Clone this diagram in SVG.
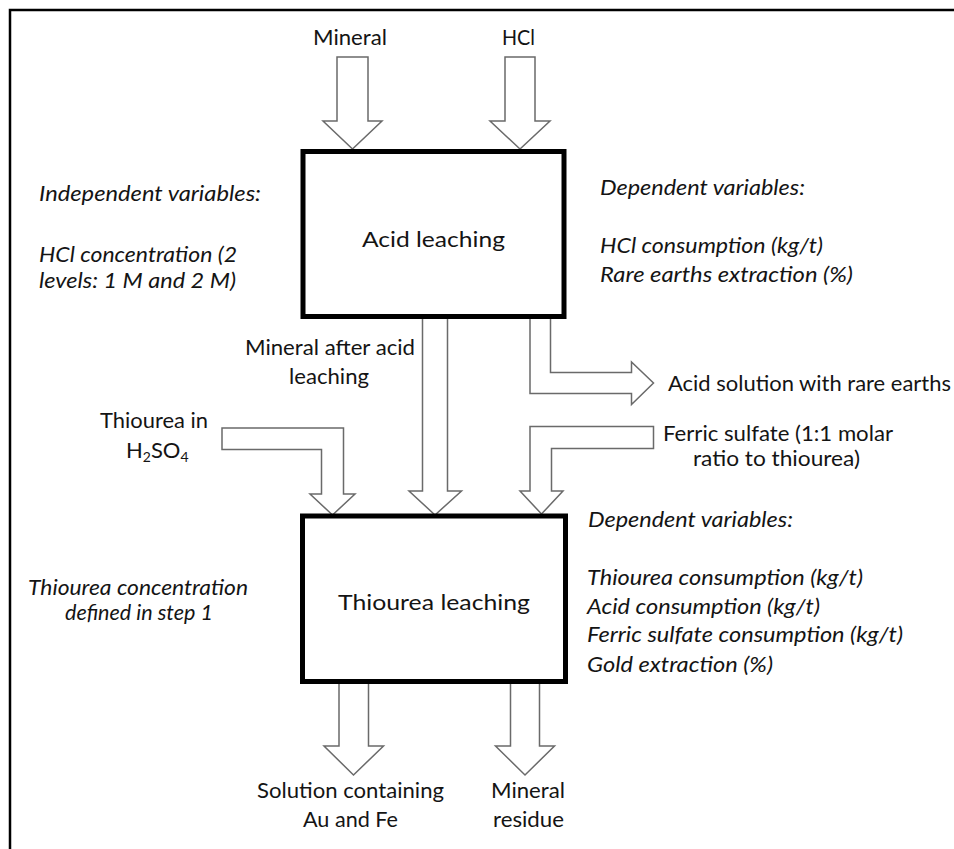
<svg xmlns="http://www.w3.org/2000/svg" width="954" height="849" viewBox="0 0 954 849">
<style>
text{font-family:Lato,"Open Sans","Liberation Sans",sans-serif;font-size:22px;fill:#141414}
.i{font-style:italic}
.arrow{fill:#fff;stroke:#6a6a6a;stroke-width:1.5;stroke-linejoin:miter}
.box{fill:#fff;stroke:#000;stroke-width:5}
.frame{fill:none;stroke:#000;stroke-width:2.5}
</style>
<rect width="954" height="849" fill="#fff"/>
<path class="frame" d="M10,849 V10 H954"/>
<g id="connectors">
<polygon class="arrow" points="337,57 368,57 368,121 382,121 352.5,149 323,121 337,121"/>
<polygon class="arrow" points="505,57 535,57 535,121 550,121 520,149 490,121 505,121"/>
<polygon class="arrow" points="422.5,316 447.5,316 447.5,491 461.5,491 435,515 409,491 422.5,491"/>
<polygon class="arrow" points="222,428 343.5,428 343.5,494 355,494 332.5,515 310,494 321.5,494 321.5,449.5 222,449.5"/>
<polygon class="arrow" points="653.5,426.5 530,426.5 530,491 520,491 541.5,514 563,491 551.5,491 551.5,448.5 653.5,448.5"/>
<polygon class="arrow" points="530,316 550.5,316 550.5,372.5 631.5,372.5 631.5,362 653.5,383 631.5,404.5 631.5,393.5 530,393.5"/>
<polygon class="arrow" points="339,682 368.5,682 368.5,746 383.5,746 353.5,775 324,746 339,746"/>
<polygon class="arrow" points="510.5,682 539.5,682 539.5,746 554.5,746 525,775 495.5,746 510.5,746"/>
</g>
<g id="acid-leaching">
<rect class="box" x="303" y="151.5" width="261" height="165"/>
<text x="362" y="247" textLength="143" lengthAdjust="spacingAndGlyphs">Acid leaching</text>
</g>
<g id="thiourea-leaching">
<rect class="box" x="302.5" y="516" width="263" height="165.5"/>
<text x="338" y="610" textLength="192" lengthAdjust="spacingAndGlyphs">Thiourea leaching</text>
</g>
<g id="labels">
<text x="313" y="45" textLength="74" lengthAdjust="spacingAndGlyphs">Mineral</text>
<text x="502" y="45" textLength="33" lengthAdjust="spacingAndGlyphs">HCl</text>
<text class="i" x="39" y="201" textLength="222" lengthAdjust="spacingAndGlyphs">Independent variables:</text>
<text class="i" x="39" y="262" textLength="198" lengthAdjust="spacingAndGlyphs">HCl concentration (2</text>
<text class="i" x="39" y="288" textLength="197" lengthAdjust="spacingAndGlyphs">levels: 1 M and 2 M)</text>
<text class="i" x="600" y="195" textLength="205" lengthAdjust="spacingAndGlyphs">Dependent variables:</text>
<text class="i" x="600" y="253" textLength="223" lengthAdjust="spacingAndGlyphs">HCl consumption (kg/t)</text>
<text class="i" x="600" y="282" textLength="253" lengthAdjust="spacingAndGlyphs">Rare earths extraction (%)</text>
<text x="245" y="355" textLength="170" lengthAdjust="spacingAndGlyphs">Mineral after acid</text>
<text x="289" y="384" textLength="80" lengthAdjust="spacingAndGlyphs">leaching</text>
<text x="668" y="391" textLength="283" lengthAdjust="spacingAndGlyphs">Acid solution with rare earths</text>
<text x="100" y="428" textLength="108" lengthAdjust="spacingAndGlyphs">Thiourea in</text>
<text x="126" y="458">H<tspan font-size="14" dy="4">2</tspan><tspan dy="-4">SO</tspan><tspan font-size="14" dy="4">4</tspan></text>
<text x="663" y="441" textLength="230" lengthAdjust="spacingAndGlyphs">Ferric sulfate (1:1 molar</text>
<text x="693" y="466" textLength="167" lengthAdjust="spacingAndGlyphs">ratio to thiourea)</text>
<text class="i" x="588" y="527" textLength="205" lengthAdjust="spacingAndGlyphs">Dependent variables:</text>
<text class="i" x="587" y="585" textLength="276" lengthAdjust="spacingAndGlyphs">Thiourea consumption (kg/t)</text>
<text class="i" x="587" y="614" textLength="233" lengthAdjust="spacingAndGlyphs">Acid consumption (kg/t)</text>
<text class="i" x="587" y="642" textLength="316" lengthAdjust="spacingAndGlyphs">Ferric sulfate consumption (kg/t)</text>
<text class="i" x="587" y="672" textLength="186" lengthAdjust="spacingAndGlyphs">Gold extraction (%)</text>
<text class="i" x="28" y="595" textLength="220" lengthAdjust="spacingAndGlyphs">Thiourea concentration</text>
<text class="i" x="65" y="620" textLength="148" lengthAdjust="spacingAndGlyphs">defined in step 1</text>
<text x="257" y="798" textLength="187" lengthAdjust="spacingAndGlyphs">Solution containing</text>
<text x="303" y="827" textLength="95" lengthAdjust="spacingAndGlyphs">Au and Fe</text>
<text x="491" y="798" textLength="74" lengthAdjust="spacingAndGlyphs">Mineral</text>
<text x="493" y="827" textLength="71" lengthAdjust="spacingAndGlyphs">residue</text>
</g>
</svg>
